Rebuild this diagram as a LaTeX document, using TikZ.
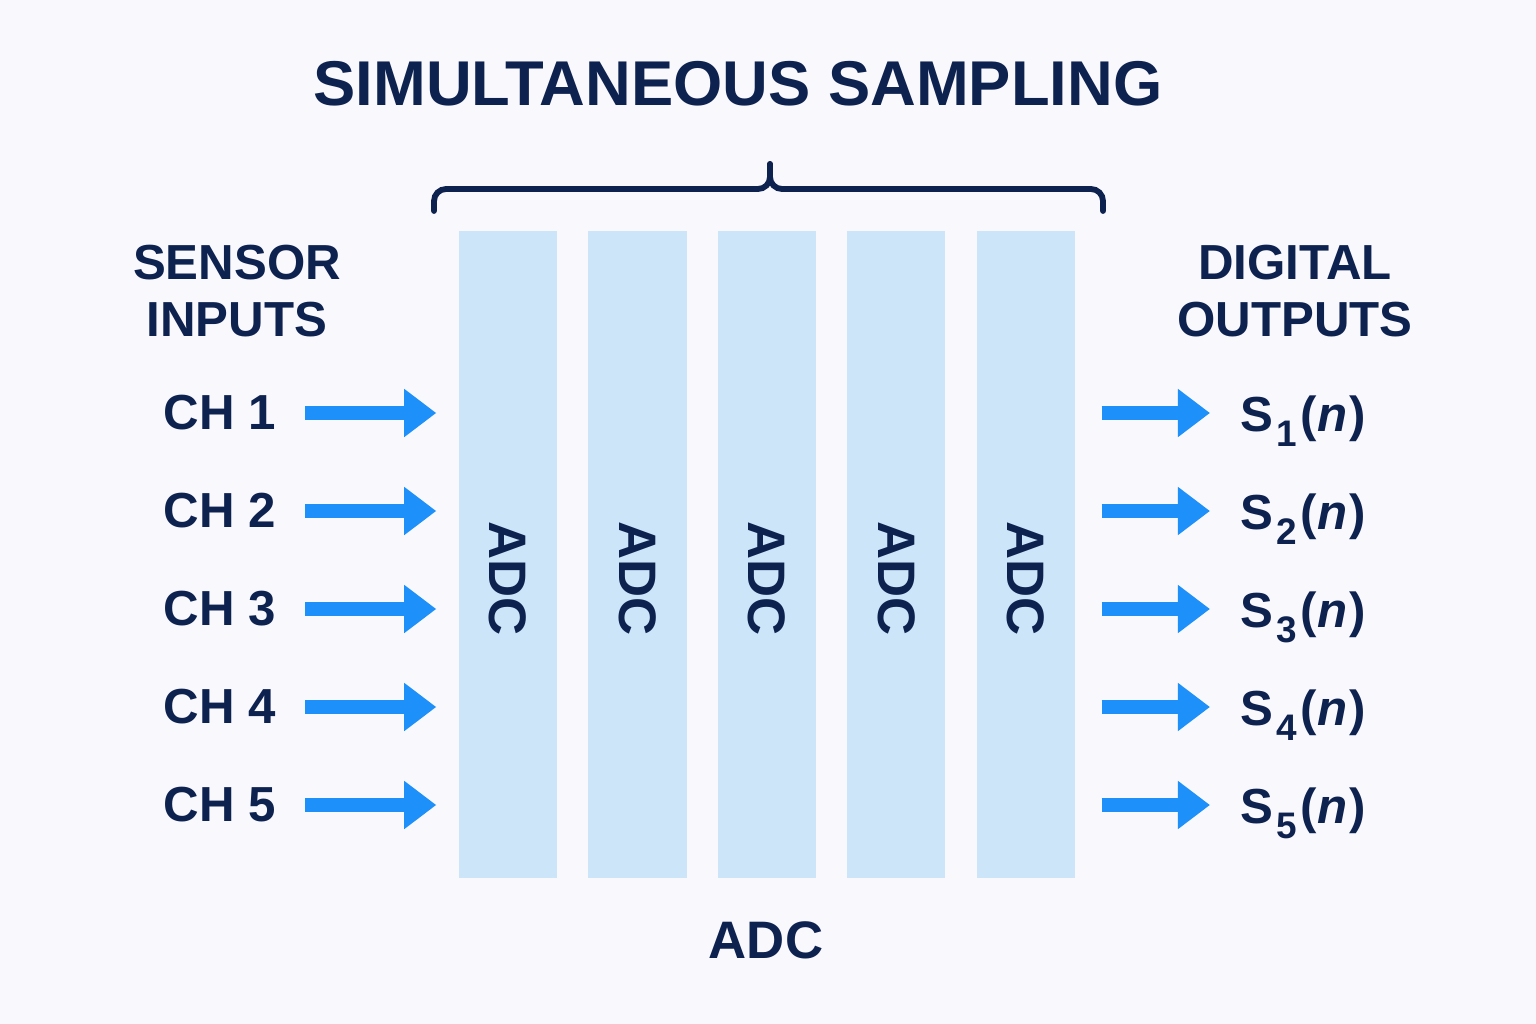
\documentclass[tikz,border=0pt]{standalone}
\usepackage{fontspec}
\setmainfont{Liberation Sans}
\usepackage{xcolor}
\usetikzlibrary{arrows.meta,positioning}
\definecolor{navy}{HTML}{0E2250}
\definecolor{adcblue}{HTML}{CCE5F8}
\definecolor{arrblue}{HTML}{1E90FA}
\definecolor{bgpage}{HTML}{F8F8FD}

\begin{document}
\begin{tikzpicture}[x=0.01cm,y=-0.01cm,>={Triangle[length=0.32cm,width=0.46cm]},
  adccol/.style={fill=adcblue,minimum width=0.98cm,minimum height=6.47cm,inner sep=0},
  lbl/.style={text=navy,font=\bfseries\fontsize{14}{16.2}\selectfont,inner sep=0},
  flow/.style={->,color=arrblue,line width=0.14cm}]
\fill[bgpage] (0,0) rectangle (1536,1024);
\useasboundingbox (0,0) rectangle (1536,1024);
% Title and brace
\node[lbl,font=\bfseries\fontsize{18}{22}\selectfont] (title) at (738,84) {SIMULTANEOUS SAMPLING};
\draw[navy,line width=0.058cm,rounded corners=0.12cm,line cap=round] (434,211) -- (434,189) -- (770,189) -- (770,164);
\draw[navy,line width=0.058cm,rounded corners=0.12cm,line cap=round] (770,164) -- (770,189) -- (1103,189) -- (1103,211);
% ADC columns
\node[adccol] (adc1) at (508,554.5) {};
\foreach \i [remember=\i as \j (initially 1)] in {2,...,5}
  \node[adccol,right=0.3cm of adc\j] (adc\i) {};
\foreach \i in {1,...,5}
  \node[lbl,rotate=-90,font=\bfseries\fontsize{15}{18}\selectfont] (adclbl\i) at ([yshift=-0.24cm]adc\i.center) {ADC};
\node[lbl,font=\bfseries\fontsize{15}{18}\selectfont] (adcname) at (766,940) {ADC};
% Headings
\node[lbl,align=center] (sensors) at (237,291) {SENSOR\\INPUTS};
\node[lbl,align=center] (outputs) at (1295,291) {DIGITAL\\OUTPUTS};
% Channels
\foreach \i in {1,...,5}{
  \pgfmathsetmacro\y{315+98*\i}
  \node[lbl,anchor=west] (ch\i) at (163,\y) {CH \i};
  \coordinate (in\i) at (305,\y);
  \draw[flow,shorten >=0.22cm] (in\i) -- (in\i -| adc1.west);
  \node[lbl,anchor=base west] (s\i) at (1240,\y+18) {S\kern0.06em\raisebox{-0.32em}{\fontsize{10.5}{11}\selectfont\i}\kern0.08em(\textit{n}\kern0.04em)};
  \draw[flow,shorten <=0.26cm,shorten >=0.30cm] (adc5.east |- in\i) -- (s\i.west |- in\i);
}
\end{tikzpicture}
\end{document}
